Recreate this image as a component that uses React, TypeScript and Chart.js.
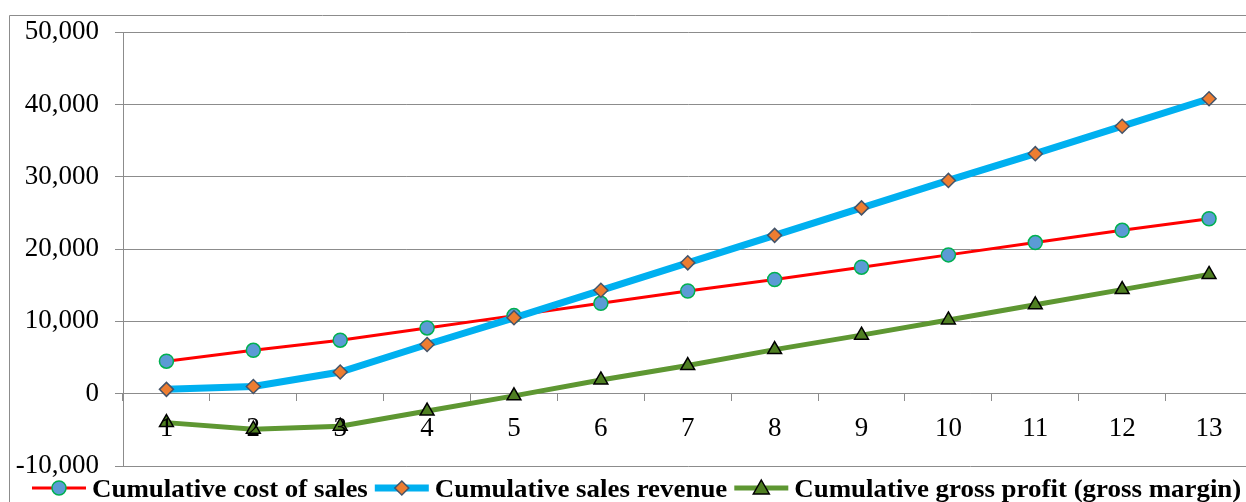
import React, { useEffect, useRef } from "react";
import { Chart, registerables } from "chart.js";

Chart.register(...registerables);

const categories = ["1", "2", "3", "4", "5", "6", "7", "8", "9", "10", "11", "12", "13"];
const costOfSales = [4500, 6000, 7400, 9100, 10800, 12500, 14200, 15800, 17500, 19200, 20900, 22600, 24200];
const salesRevenue = [600, 1000, 3000, 6800, 10500, 14300, 18100, 21900, 25700, 29500, 33200, 37000, 40800];
const grossProfit = [-4000, -4900, -4500, -2400, -300, 1900, 3900, 6100, 8100, 10200, 12300, 14400, 16500];
const seriesNames = [
  "Cumulative cost of sales",
  "Cumulative sales revenue",
  "Cumulative gross profit (gross margin)",
];
const yMin = -10000;
const yMax = 50000;
const yStep = 10000;

const FONT = "'Liberation Serif', 'Times New Roman', serif";
const GRID = "#8c8c8c";

const framePlugin = {
  id: "frame",
  beforeDraw(chart: any) {
    const ctx = chart.ctx;
    ctx.save();
    ctx.fillStyle = "#ffffff";
    ctx.fillRect(0, 0, chart.width, chart.height);
    ctx.strokeStyle = GRID;
    ctx.lineWidth = 1;
    ctx.beginPath();
    ctx.moveTo(9.5, chart.height);
    ctx.lineTo(9.5, 15.5);
    ctx.lineTo(chart.width, 15.5);
    ctx.stroke();
    ctx.restore();
  },
};

const legendPlugin = {
  id: "customLegend",
  afterDraw(chart: any) {
    const ctx = chart.ctx;
    ctx.save();
    ctx.font = `bold 26px ${FONT}`;
    ctx.textBaseline = "alphabetic";
    ctx.textAlign = "left";
    const sx = 1.035;
    let x = 32;
    const yLine = 488;
    chart.data.datasets.forEach((ds: any) => {
      ctx.strokeStyle = ds.borderColor;
      ctx.lineWidth = ds.borderWidth;
      ctx.beginPath();
      ctx.moveTo(x, yLine);
      ctx.lineTo(x + 54, yLine);
      ctx.stroke();
      const cx = x + 27;
      ctx.fillStyle = ds.pointBackgroundColor;
      ctx.strokeStyle = ds.pointBorderColor;
      ctx.lineWidth = ds.pointBorderWidth;
      ctx.beginPath();
      if (ds.pointStyle === "circle") {
        ctx.arc(cx, yLine, 7, 0, Math.PI * 2);
      } else if (ds.pointStyle === "rectRot") {
        ctx.moveTo(cx, yLine - 7);
        ctx.lineTo(cx + 7, yLine);
        ctx.lineTo(cx, yLine + 7);
        ctx.lineTo(cx - 7, yLine);
        ctx.closePath();
      } else {
        ctx.moveTo(cx, yLine - 8);
        ctx.lineTo(cx + 8, yLine + 6);
        ctx.lineTo(cx - 8, yLine + 6);
        ctx.closePath();
      }
      ctx.fill();
      ctx.stroke();
      ctx.fillStyle = "#000000";
      const tx = x + 60;
      ctx.save();
      ctx.translate(tx, 497);
      ctx.scale(sx, 1);
      ctx.fillText(ds.label, 0, 0);
      ctx.restore();
      x = tx + ctx.measureText(ds.label).width * sx + 7;
    });
    ctx.restore();
  },
};

export default function App() {
  const canvasRef = useRef<HTMLCanvasElement | null>(null);

  useEffect(() => {
    const canvas = canvasRef.current;
    if (!canvas) return;
    const chart = new Chart(canvas, {
      type: "line",
      data: {
        labels: categories,
        datasets: [
          {
            label: seriesNames[0],
            data: costOfSales,
            borderColor: "#ff0000",
            borderWidth: 3,
            pointStyle: "circle",
            pointRadius: 7,
            pointBackgroundColor: "#5b9bd5",
            pointBorderColor: "#00b050",
            pointBorderWidth: 1.5,
            order: 3,
          },
          {
            label: seriesNames[1],
            data: salesRevenue,
            borderColor: "#00b0f0",
            borderWidth: 7,
            pointStyle: "rectRot",
            pointRadius: 7,
            pointBackgroundColor: "#ed7d31",
            pointBorderColor: "#44546a",
            pointBorderWidth: 1.5,
            order: 2,
          },
          {
            label: seriesNames[2],
            data: grossProfit,
            borderColor: "#5e9732",
            borderWidth: 5,
            pointStyle: "triangle",
            pointRadius: 8,
            pointBackgroundColor: "#4f7f22",
            pointBorderColor: "#000000",
            pointBorderWidth: 1.5,
            order: 1,
          },
        ],
      },
      options: {
        responsive: false,
        animation: false,
        devicePixelRatio: 1,
        layout: { padding: { left: 0, top: 31, right: 8, bottom: 36 } },
        plugins: {
          legend: { display: false },
          tooltip: { enabled: false },
        },
        elements: { line: { tension: 0 } },
        scales: {
          x: {
            type: "category",
            offset: true,
            position: { y: 0 } as any,
            grid: {
              display: true,
              drawOnChartArea: false,
              drawTicks: true,
              tickLength: 7,
              offset: true,
              color: GRID,
            },
            border: { display: true, color: GRID },
            ticks: {
              z: 1,
              color: "#000000",
              font: { family: FONT, size: 27 },
              padding: 12,
              maxRotation: 0,
              autoSkip: false,
            },
          },
          y: {
            type: "linear",
            min: yMin,
            max: yMax,
            afterFit: (scale: any) => {
              scale.width = 123;
            },
            grid: {
              color: GRID,
              drawTicks: true,
              tickLength: 8,
            },
            border: { display: true, color: GRID },
            ticks: {
              stepSize: yStep,
              color: "#000000",
              font: { family: FONT, size: 27 },
              padding: 16,
              callback: (v: any) => Number(v).toLocaleString("en-US"),
            },
          },
        },
      },
      plugins: [framePlugin, legendPlugin],
    });
    return () => chart.destroy();
  }, []);

  return (
    <div
      style={{
        position: "fixed",
        left: 0,
        top: 0,
        width: 1246,
        height: 502,
        overflow: "hidden",
        background: "#ffffff",
      }}
    >
      <canvas
        ref={canvasRef}
        width={1262}
        height={502}
        style={{ display: "block", width: 1262, height: 502 }}
      />
    </div>
  );
}
